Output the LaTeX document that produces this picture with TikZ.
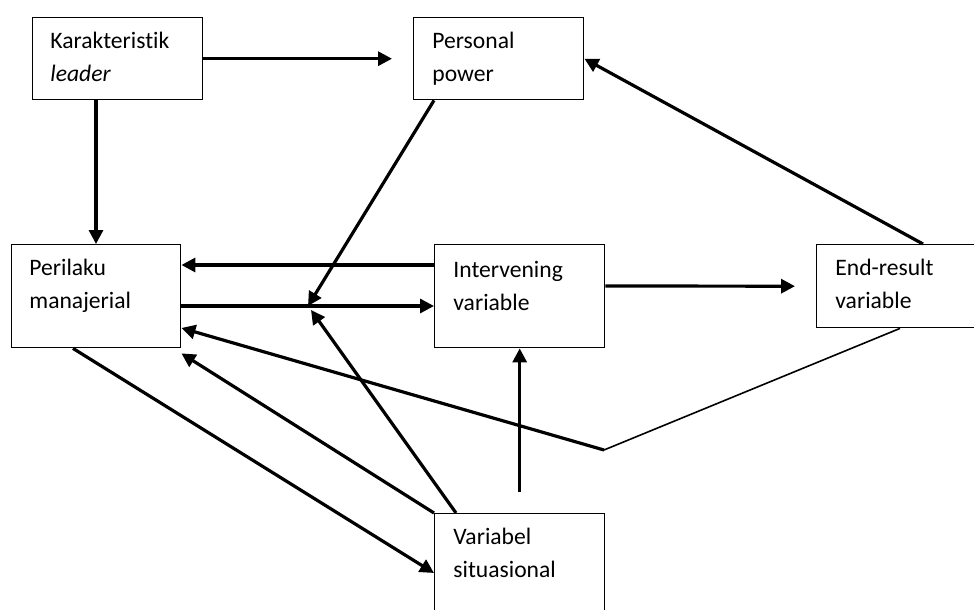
\documentclass[tikz,border=0pt]{standalone}
\usepackage{fontspec}
\setmainfont{Carlito}[Ligatures=NoCommon]
\usepackage{tikz}
\usetikzlibrary{arrows.meta,positioning,calc}

\tikzset{
	box/.style={draw, line width=0.7pt, rectangle, minimum width=85pt, minimum height=41pt, anchor=north west, inner sep=0pt},
	boxtext/.style={anchor=north west, align=left, inner sep=0pt, font=\fontsize{11.8}{16.5}\selectfont},
	link/.style={line width=1.6pt},
	arr/.style={link, -{Triangle[length=7pt,width=7pt]}},
}

\begin{document}
\begin{tikzpicture}[x=0.5pt,y=-0.5pt]
			\useasboundingbox (0,0) rectangle (974,610);
			\clip (0,0) rectangle (974,610);
			% Boxes
			\node[box] (kar) at (32,17) {};
			\node[box] (pow) at (413,17) {};
			\node[box, minimum width=84.5pt, minimum height=51.5pt] (per) at (11,244) {};
			\node[box, minimum height=51.5pt] (itv) at (434,244) {};
			\node[box, minimum width=100pt, minimum height=41.5pt] (end) at (816,244) {};
			\node[box, minimum height=51.5pt] (sit) at (434,513) {};
			% Texts in the boxes
			\node[boxtext] (kar-t) at ([shift={(9pt,-7.2pt)}]kar.north west) {Karakteristik\\\textit{leader}};
			\node[boxtext] (pow-t) at ([shift={(9.5pt,-7.2pt)}]pow.north west) {Personal\\power};
			\node[boxtext] (per-t) at ([shift={(9pt,-7.2pt)}]per.north west) {Perilaku\\manajerial};
			\node[boxtext] (itv-t) at ([shift={(9.5pt,-8.2pt)}]itv.north west) {Intervening\\variable};
			\node[boxtext] (end-t) at ([shift={(9.5pt,-7.2pt)}]end.north west) {End-result\\variable};
			\node[boxtext] (sit-t) at ([shift={(9.5pt,-7.2pt)}]sit.north west) {Variabel\\situasional};
			% Arrows from the top row
			\draw[arr] (kar.east) -- ([xshift=-10.5pt]pow.west);
			\draw[arr] ([xshift=32pt]kar.south west) -- ([xshift=32pt]kar.south west |- per.north);
			% Arrows between perilaku and intervening
			\draw[arr] ([yshift=-10.5pt]itv.north west) -- ([yshift=-10.5pt]itv.north west -| per.east);
			\draw[arr] ([yshift=-31pt]per.north east) -- ([yshift=-31pt]per.north east -| itv.west);
			\draw[arr] ([yshift=-21pt]itv.north east) -- ([xshift=-10.5pt]end.west);
			% Feedback from end-result
			\draw[arr] ([xshift=53.5pt]end.north west) -- (pow.east);
			\coordinate (bend) at (604,450);
			\draw[line width=0.8pt] ([xshift=42pt]end.south west) -- (bend);
			\draw[arr] (bend) -- ([yshift=-42pt]per.north east);
			% Moderating arrows onto the middle line
			\coordinate (hubA) at (308,306);
			\coordinate (hubB) at (311,310);
			\draw[arr] ([xshift=10.5pt]pow.south west) -- (hubA);
			\draw[arr] ([xshift=11pt]sit.north west) -- (hubB);
			% Situational variable
			\draw[arr] (sit.north west) -- ([yshift=-2.5pt]per.south east);
			\draw[arr] ([xshift=31pt]per.south west) -- ([yshift=-30pt]sit.north west);
			\draw[arr] ([yshift=10.5pt]sit.north) -- (itv.south);
		\end{tikzpicture}
\end{document}
